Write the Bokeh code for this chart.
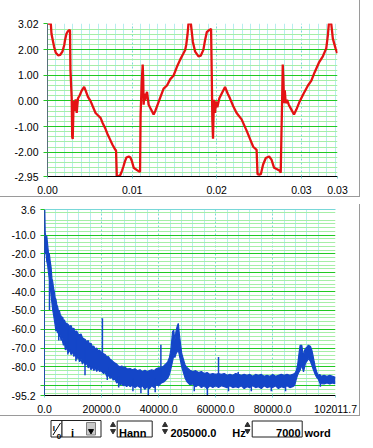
import numpy as np
from bokeh.plotting import figure
from bokeh.layouts import column
from bokeh.models import Range1d, FixedTicker, PrintfTickFormatter, LinearAxis, Spacer
from bokeh.core.properties import value
from bokeh.embed import file_html
from bokeh.resources import INLINE

# ---------------- data ----------------
# time signal (time in ms, amplitude)
time_ms = [0.04, 0.39, 0.47, 0.78, 0.98, 1.25, 1.51, 1.76, 1.98, 2.07, 2.24, 2.39, 2.62, 2.66,
           2.71, 2.86, 2.92, 2.98, 3.09, 3.21, 3.33, 3.45, 3.60, 3.80, 4.04, 4.33, 4.51, 4.78,
           5.09, 5.33, 5.68, 5.92, 6.27, 6.50, 6.86, 7.10, 7.44, 7.68, 8.02, 8.10, 8.19, 8.27,
           8.51, 8.62, 8.80, 8.98, 9.15, 9.33, 9.60, 9.80, 9.98, 10.19, 10.39, 10.62, 10.89, 10.94,
           11.00, 11.07, 11.13, 11.25, 11.31, 11.36, 11.45, 11.54, 11.65, 11.76, 11.86, 11.95,
           12.15, 12.39, 12.54, 12.74, 12.94, 13.33, 13.72, 14.12, 14.51, 14.89, 15.27, 15.68,
           16.04, 16.27, 16.40, 16.55, 16.66, 16.94, 17.18, 17.45, 17.84, 18.12, 18.42, 18.62,
           18.82, 19.13, 19.33, 19.41, 19.48, 19.56, 19.62, 19.68, 19.80, 19.92, 20.07, 20.31,
           20.59, 20.98, 21.29, 21.56, 21.95, 22.35, 22.94, 23.53, 24.00, 24.31, 24.71, 24.82,
           25.01, 25.21, 25.48, 25.80, 26.19, 26.47, 26.78, 27.13, 27.45, 27.56, 27.65, 27.72,
           27.80, 27.88, 27.95, 28.04, 28.15, 28.31, 28.51, 28.82, 29.13, 29.41, 29.80, 30.27,
           30.78, 31.18, 31.56, 32.07, 32.54, 32.94, 33.13, 33.25, 33.53, 33.72, 34.04, 34.24]
amplitude = [3.02, 3.02, 2.62, 2.11, 1.88, 1.78, 1.80, 1.92, 2.18, 2.37, 2.62, 2.71, 2.77, 2.74,
             1.23, 0.10, -1.41, -1.49, 0.00, -0.39, 0.06, -0.47, 0.10, 0.21, 0.40, 0.55, 0.40, 0.16,
             -0.01, -0.20, -0.47, -0.55, -0.66, -0.85, -1.10, -1.30, -1.54, -1.71, -1.91, -1.94, -2.92, -2.94,
             -2.92, -2.88, -2.73, -2.55, -2.36, -2.21, -2.17, -2.21, -2.36, -2.61, -2.66, -2.71, -2.77, -2.75,
             -0.53, 0.10, 0.73, 1.42, 0.85, -0.15, 0.29, 0.02, 0.22, 0.35, 0.10, -0.15,
             -0.28, -0.43, -0.53, -0.39, -0.21, 0.14, 0.48, 0.60, 0.85, 0.98, 1.31, 1.61,
             1.84, 1.99, 2.20, 2.60, 3.02, 3.02, 2.30, 1.92, 1.74, 1.77, 1.99, 2.37,
             2.68, 2.77, 2.81, 1.04, -0.72, -1.48, -0.60, 0.04, -0.47, -0.02, -0.25, 0.10,
             0.29, 0.54, 0.29, 0.10, -0.21, -0.47, -0.72, -1.16, -1.54, -1.79, -1.91, -2.86,
             -2.88, -2.86, -2.48, -2.23, -2.17, -2.29, -2.61, -2.67, -2.73, -2.80, -1.22, -0.09,
             1.42, 0.79, -0.09, 0.41, -0.09, 0.04, -0.15, -0.34, -0.53, -0.34, -0.02, 0.29,
             0.60, 0.79, 1.11, 1.49, 1.74, 2.05, 2.56, 3.02, 3.02, 2.43, 2.05, 1.86]

# spectrum envelope (frequency in kHz, upper and lower edge of the noisy trace in dB)
freq_khz = [0.0, 0.1, 0.25, 0.5, 0.8, 1.1, 1.4, 1.7, 2.0, 2.3, 2.6, 2.9, 3.15, 3.45, 3.74, 4.0,
            4.3, 4.6, 4.9, 5.2, 5.5, 5.8, 6.1, 6.4, 6.65, 7.0, 7.3, 7.8, 8.3, 8.8, 9.3, 9.8,
            10.3, 10.8, 11.3, 11.8, 12.3, 12.8, 13.3, 13.8, 14.3, 14.8, 15.3, 15.8, 16.3, 16.8,
            17.3, 17.8, 18.3, 18.8, 19.3, 19.8, 20.7, 21.3, 21.8, 22.4, 23.0, 23.6, 24.1, 24.7,
            25.3, 25.9, 26.5, 27.1, 27.6, 28.2, 28.8, 29.4, 30.0, 30.8, 31.7, 32.6, 33.5, 34.3,
            35.2, 36.0, 36.8, 37.6, 38.4, 39.2, 40.0, 41.0, 41.8, 42.5, 43.2, 43.8, 44.3, 44.9,
            45.3, 45.7, 46.1, 46.5, 46.9, 47.3, 47.7, 48.1, 48.7, 49.3, 50.0, 51.0, 52.0, 53.0,
            54.0, 55.0, 56.0, 57.0, 58.0, 59.0, 60.0, 61.0, 62.0, 63.0, 64.0, 65.0, 66.0, 67.0,
            68.0, 69.0, 70.0, 71.0, 72.0, 73.0, 74.0, 75.0, 76.0, 77.0, 78.0, 79.0, 80.0, 81.0,
            82.0, 83.0, 84.0, 85.0, 86.0, 87.0, 87.7, 88.3, 88.8, 89.3, 89.6, 90.2, 90.8, 91.2,
            91.5, 92.0, 92.5, 93.2, 93.7, 94.1, 94.5, 94.9, 95.4, 95.9, 96.5, 97.0, 98.0, 99.0,
            100.0, 101.0, 101.7, 102.0]
level_upper = [3.6, 3.6, -9, -11, -10.5, -15, -19.5, -20, -24, -27, -33, -35, -38, -40, -43.5, -44,
               -47, -48, -50.6, -50, -52, -53, -54, -53.5, -55.5, -55, -56.5, -57, -57.5, -58.5, -58, -60,
               -59.5, -61.5, -61, -62.5, -63, -62.5, -64.5, -65, -65.5, -66.7, -66, -68, -67.5, -69.3,
               -69, -70.5, -70, -71.5, -71.1, -72, -73, -73.5, -74.7, -74.5, -76, -76.5, -77.3, -78,
               -78.5, -79.5, -80, -79.5, -80.5, -80, -80.9, -81, -80.9, -81.5, -81, -82, -81.5, -82.5,
               -81.8, -82.5, -82, -81.5, -82, -81, -80.5, -80.5, -79.5, -78.5, -77.3, -75, -71, -61.3,
               -60.5, -66, -61, -58.5, -56.9, -63, -68, -72.9, -76, -79.1, -80.5, -81.8, -82.5, -82,
               -83, -82.5, -83.5, -83, -84, -83.5, -84, -83.5, -84, -83.5, -84.5, -84, -84.5, -83.5,
               -84, -84.5, -84, -84.5, -84, -85, -84, -84.5, -84, -85, -84.5, -85, -84, -85,
               -84.5, -84, -84.5, -84, -84.5, -84, -83.5, -82, -78.2, -72, -68.5, -68.5, -74.7, -71,
               -70.2, -69.5, -68.5, -69, -71, -73.8, -77, -80, -82.5, -84.5, -84, -85, -84.5, -85,
               -84.5, -85, -85.4, -85.4]
level_lower = [-12, -15, -20, -19, -24, -26, -30, -33, -37, -42, -46, -50, -52, -55, -58, -61,
               -60, -62, -61, -64, -63, -66, -64, -67, -68.5, -67, -71, -70, -72.5, -71, -73.5, -72,
               -74.5, -73, -76, -74.5, -77.3, -76, -78.5, -77, -79, -78, -80.5, -79.5, -81.5, -80,
               -82, -80.5, -82.5, -81, -82.5, -82, -83.5, -83, -85, -84.5, -86, -85.5, -87, -86.5,
               -88.5, -88, -89.5, -89, -90, -89.5, -90.5, -89.5, -90.5, -89.8, -91, -90, -91, -90,
               -92, -90.5, -91.5, -90, -91, -89.5, -90, -88.5, -88, -87, -86, -84, -81, -77,
               -74, -75, -73, -72, -71, -74, -77, -80, -83, -86, -88, -89.5, -89, -90.5,
               -89.5, -91, -90, -91.5, -90, -91, -90, -91, -90, -90.5, -91, -90, -91, -90.5,
               -91, -90, -91.5, -90.5, -91, -90, -91, -90.5, -91.5, -90, -91, -90.5, -91, -90,
               -91.5, -90.5, -91, -90, -91, -90.5, -89.8, -86.3, -84, -82.5, -81.8, -79, -82.7, -80,
               -78, -77, -75.6, -77, -79, -80.9, -82.5, -84, -85.5, -86.3, -88.5, -88.9, -89, -88.5,
               -89, -88.5, -88.9, -88.5]

# isolated spectral spikes (kHz, start dB, end dB)
spike_khz = [1.75, 5.0, 8.2, 11.0, 14.2, 20.3, 22.0, 26.0, 31.0, 33.8, 36.4, 38.8, 40.8,
             52.5, 57.1, 61.0, 64.5, 67.9, 72.5, 79.5, 84.5, 96.7]
spike_from = [-30, -55, -60, -65, -70, -76, -80, -85, -86, -86, -86, -86, -85,
              -86, -86, -86, -87, -88, -88, -88, -88, -87]
spike_to = [-49.8, -66, -73.4, -77, -84.5, -54.2, -87, -91, -93, -94, -95.2, -93.5, -68.3,
            -93, -95.2, -74.7, -93, -82.7, -93, -93, -93, -90.5]

# axes / ticks
top_x_ticks = [0.0, 0.01, 0.02, 0.03, 0.03427]
top_y_ticks = [-2.95, -2.0, -1.0, 0.0, 1.0, 2.0, 3.02]
bot_x_ticks = [0.0, 20000.0, 40000.0, 60000.0, 80000.0, 102011.7]
bot_y_ticks = [-95.2, -90.0, -80.0, -70.0, -60.0, -50.0, -40.0, -30.0, -20.0, -10.0, 3.6]

# control bar texts
ctrl_ring = "i"
ctrl_window = "Hann"
ctrl_rate = "205000.0"
ctrl_rate_unit = "Hz"
ctrl_count = "7000"
ctrl_count_unit = "word"

# ---------------- styling ----------------
FONT = "Liberation Sans"
MAJ_H = "#22C822"
MIN_H = "#A6EEA6"
MAJ_V = "#78D8D8"
MIN_V = "#B6EEEE"
RED = "#E41212"
BLUE = "#1446C8"
PANEL = "1px solid #9A9A9A"

t_sec = np.array(time_ms) / 1000.0
freq_hz = np.array(freq_khz) * 1000.0
spike_hz = np.array(spike_khz) * 1000.0


def style_axes(p, xfmt, yfmt, xticks, xminor, yticks, yminor, yline):
    xt = FixedTicker(ticks=xticks, minor_ticks=xminor)
    yt = FixedTicker(ticks=yticks, minor_ticks=yminor)
    ax = p.xaxis[0]
    ay = p.yaxis[0]
    ax.ticker = xt
    ay.ticker = yt
    p.xgrid[0].ticker = xt
    p.ygrid[0].ticker = yt
    ax.formatter = PrintfTickFormatter(format=xfmt)
    ay.formatter = PrintfTickFormatter(format=yfmt)
    for a in (ax, ay):
        a.major_label_text_font = FONT
        a.major_label_text_font_size = "10.5px"
        a.major_label_text_color = "black"
        a.minor_tick_line_color = None
    ax.major_tick_out = 2
    ax.major_tick_in = 0
    ax.major_tick_line_color = MAJ_V
    ax.major_label_standoff = 5
    ay.major_tick_out = 4
    ay.major_tick_in = 0
    ay.major_tick_line_color = MAJ_H
    ay.major_tick_line_width = 1
    ay.major_label_standoff = 5
    ay.axis_line_color = yline
    p.ygrid.grid_line_color = MAJ_H
    p.ygrid.minor_grid_line_color = MIN_H
    p.xgrid.grid_line_color = MAJ_V
    p.xgrid.grid_line_dash = "2 2"
    p.xgrid.minor_grid_line_color = MIN_V
    top = LinearAxis(ticker=FixedTicker(ticks=[]), major_label_text_font_size="0px",
                     major_tick_line_color=None, minor_tick_line_color=None,
                     axis_line_color=yline)
    p.add_layout(top, "above")


# ---------------- top: time signal ----------------
p1 = figure(width=360, height=201, x_range=Range1d(0, 0.03427), y_range=Range1d(-2.95, 3.02),
            output_backend="svg", toolbar_location=None,
            min_border_left=47, min_border_right=22, min_border_top=23, min_border_bottom=20,
            background_fill_color="white", border_fill_color="white", outline_line_color=None)
style_axes(p1, "%.2f", "%.2f", top_x_ticks,
           [round(0.001 * k, 3) for k in range(1, 35) if k % 10],
           top_y_ticks,
           [round(v, 2) for v in np.arange(-2.8, 3.01, 0.2) if abs(round(v, 2) - round(v)) > 1e-6],
           "#56707A")
p1.xaxis[0].axis_line_color = None
p1.line(t_sec, amplitude, line_color=RED, line_width=2.3)

# ---------------- bottom: spectrum ----------------
p2 = figure(width=360, height=212, x_range=Range1d(0, 102011.7), y_range=Range1d(-95.2, 3.6),
            output_backend="svg", toolbar_location=None,
            min_border_left=44, min_border_right=24, min_border_top=5, min_border_bottom=20,
            background_fill_color="white", border_fill_color="white", outline_line_color=None)
style_axes(p2, "%.1f", "%.1f", bot_x_ticks,
           [4000.0 * k for k in range(1, 26) if k % 5],
           bot_y_ticks,
           [v for v in np.arange(-94.0, 3.0, 2.0) if v % 10 != 0],
           "#1E4FA8")
p2.yaxis[0].major_label_overrides = {-90.0: ""}
p2.xaxis[0].axis_line_color = MAJ_V
p2.varea(x=freq_hz, y1=level_lower, y2=level_upper, fill_color=BLUE)
p2.line(freq_hz, level_upper, line_color=BLUE, line_width=1.2)
p2.line(freq_hz, level_lower, line_color=BLUE, line_width=1.2)
p2.segment(x0=spike_hz, y0=spike_from, x1=spike_hz, y1=spike_to, line_color=BLUE, line_width=1.5)

# ---------------- control bar ----------------
p3 = figure(width=373, height=30, x_range=Range1d(0, 373), y_range=Range1d(30, 0),
            output_backend="svg", toolbar_location=None, min_border=0,
            x_axis_type=None, y_axis_type=None, outline_line_color=None,
            background_fill_color="white", border_fill_color="white")
p3.grid.visible = False
# ring control
p3.quad(left=[50.5, 61.5], right=[61.5, 100.5], top=[4, 4], bottom=[20.5, 20.5],
        fill_color="white", line_color="#202020", line_width=1)
p3.quad(left=[86], right=[95], top=[6], bottom=[18.5], fill_color="#C8C8C8", line_color="#808080")
p3.scatter([90.5], [14.5], marker="inverted_triangle", size=5, color="black")
p3.segment(x0=[52.5], y0=[18.5], x1=[60], y1=[6.5], line_color="black", line_width=1)
p3.text([52.3, 56.3], [11.5, 19.5], text=["I", "0"], text_font=value(FONT), text_font_size="8px",
        text_font_style="bold", text_baseline="alphabetic")
p3.text([70.5], [16.3], text=[ctrl_ring], text_font=value(FONT), text_font_size="11px",
        text_font_style="bold", text_baseline="alphabetic")
# spinner arrows
p3.scatter([112.5, 164.5, 247], [8.5, 8.5, 8.5], marker="triangle", size=5, color="#303030")
p3.scatter([112.5, 164.5, 247], [14.5, 14.5, 14.5], marker="inverted_triangle", size=5, color="#303030")
# boxes
p3.quad(left=[116.7, 251.7], right=[151.7, 301.7], top=[4.5, 4.5], bottom=[20.5, 20.5],
        fill_color="white", line_color="#202020", line_width=1)
p3.text([118.5, 170, 231.7, 304], [16.3, 16.3, 16.3, 16.3],
        text=[ctrl_window, ctrl_rate, ctrl_rate_unit, ctrl_count_unit],
        text_font=value(FONT), text_font_size="11px", text_font_style="bold",
        text_baseline="alphabetic")
p3.text([300], [16.3], text=[ctrl_count], text_font=value(FONT), text_font_size="11px",
        text_font_style="bold", text_baseline="alphabetic", text_align="right")

w1 = column(p1, width=360, height=197,
            styles={"overflow": "hidden", "border-right": PANEL, "border-bottom": PANEL})
w2 = column(p2, width=360, height=212,
            styles={"overflow": "hidden", "border-right": PANEL, "border-bottom": PANEL})
layout = column(w1, Spacer(width=10, height=7), w2, p3, spacing=0)
open("out.html", "w").write(file_html(layout, INLINE))
